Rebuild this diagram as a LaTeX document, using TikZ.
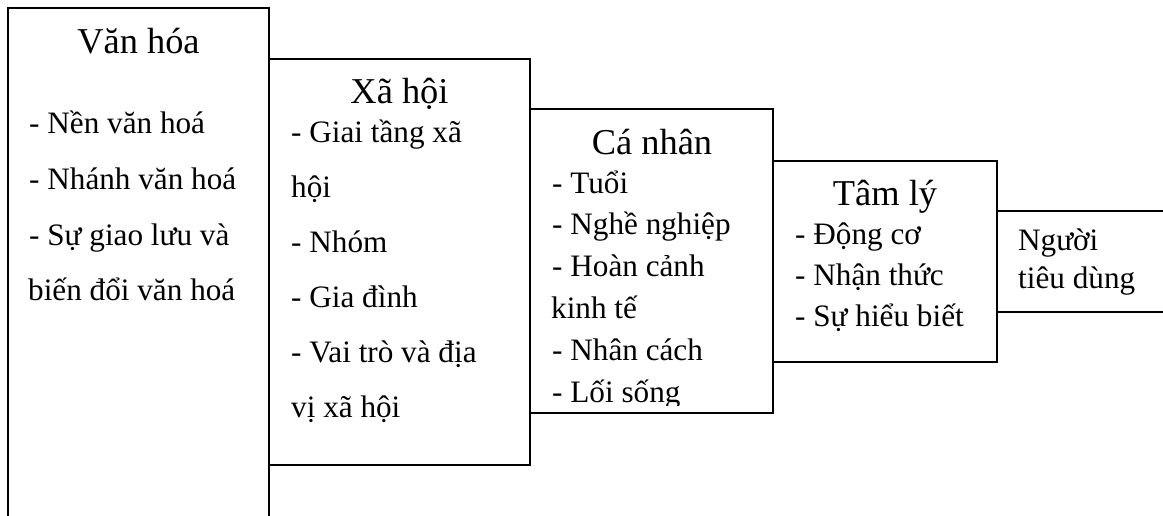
\documentclass[tikz,border=0pt]{standalone}
\usepackage{fontspec}
\setmainfont{Liberation Serif}
\begin{document}
\begin{tikzpicture}[x=1pt,y=-1pt,
  frame/.style={line width=2.2pt, line cap=rect, line join=miter},
  title/.style={anchor=base, inner sep=0pt, font=\fontsize{36.4}{40}\selectfont},
  item/.style={anchor=base west, inner sep=0pt, font=\fontsize{31.2}{36}\selectfont}]
\useasboundingbox[fill=white] (0,0) rectangle (1163,515);
% frames
\draw[frame] (8,516) -- (8,8) -- (269,8) -- (269,516);
\draw[frame] (269,59) -- (530,59) -- (530,465) -- (269,465);
\draw[frame] (530,109) -- (773,109) -- (773,413) -- (530,413);
\draw[frame] (773,161) -- (997,161) -- (997,362) -- (773,362);
\draw[frame] (997,211) -- (1164,211);
\draw[frame] (997,312) -- (1164,312);
% Van hoa
\node[title] (vh) at (138.5,53) {Văn hóa};
\node[item] (vh1) at (29,133) {- Nền văn hoá};
\node[item] (vh2) at (29,189) {- Nhánh văn hoá};
\node[item] (vh3) at (29,245) {- Sự giao lưu và};
\node[item] (vh4) at (28,300) {biến đổi văn hoá};
% Xa hoi
\node[title] (xh) at (399.5,103) {Xã hội};
\node[item] (xh1) at (291,142) {- Giai tầng xã};
\node[item] (xh2) at (291,197) {hội};
\node[item] (xh3) at (291,252) {- Nhóm};
\node[item] (xh4) at (291,307) {- Gia đình};
\node[item] (xh5) at (291,362) {- Vai trò và địa};
\node[item] (xh6) at (291,417) {vị xã hội};
% Ca nhan
\node[title] (cn) at (652,154) {Cá nhân};
\node[item] (cn1) at (552,193) {- Tuổi};
\node[item] (cn2) at (552,234) {- Nghề nghiệp};
\node[item] (cn3) at (552,276) {- Hoàn cảnh};
\node[item] (cn4) at (551,318) {kinh tế};
\node[item] (cn5) at (552,360) {- Nhân cách};
\begin{scope}
\clip (535,370) rectangle (770,405);
\node[item] (cn6) at (552,402) {- Lối sống};
\end{scope}
% Tam ly
\node[title] (tl) at (885,205) {Tâm lý};
\node[item] (tl1) at (795,244) {- Động cơ};
\node[item] (tl2) at (795,285) {- Nhận thức};
\node[item] (tl3) at (795,326) {- Sự hiểu biết};
% Nguoi tieu dung
\node[item] (nt1) at (1018,250) {Người};
\node[item] (nt2) at (1018,288) {tiêu dùng};
\end{tikzpicture}
\end{document}
